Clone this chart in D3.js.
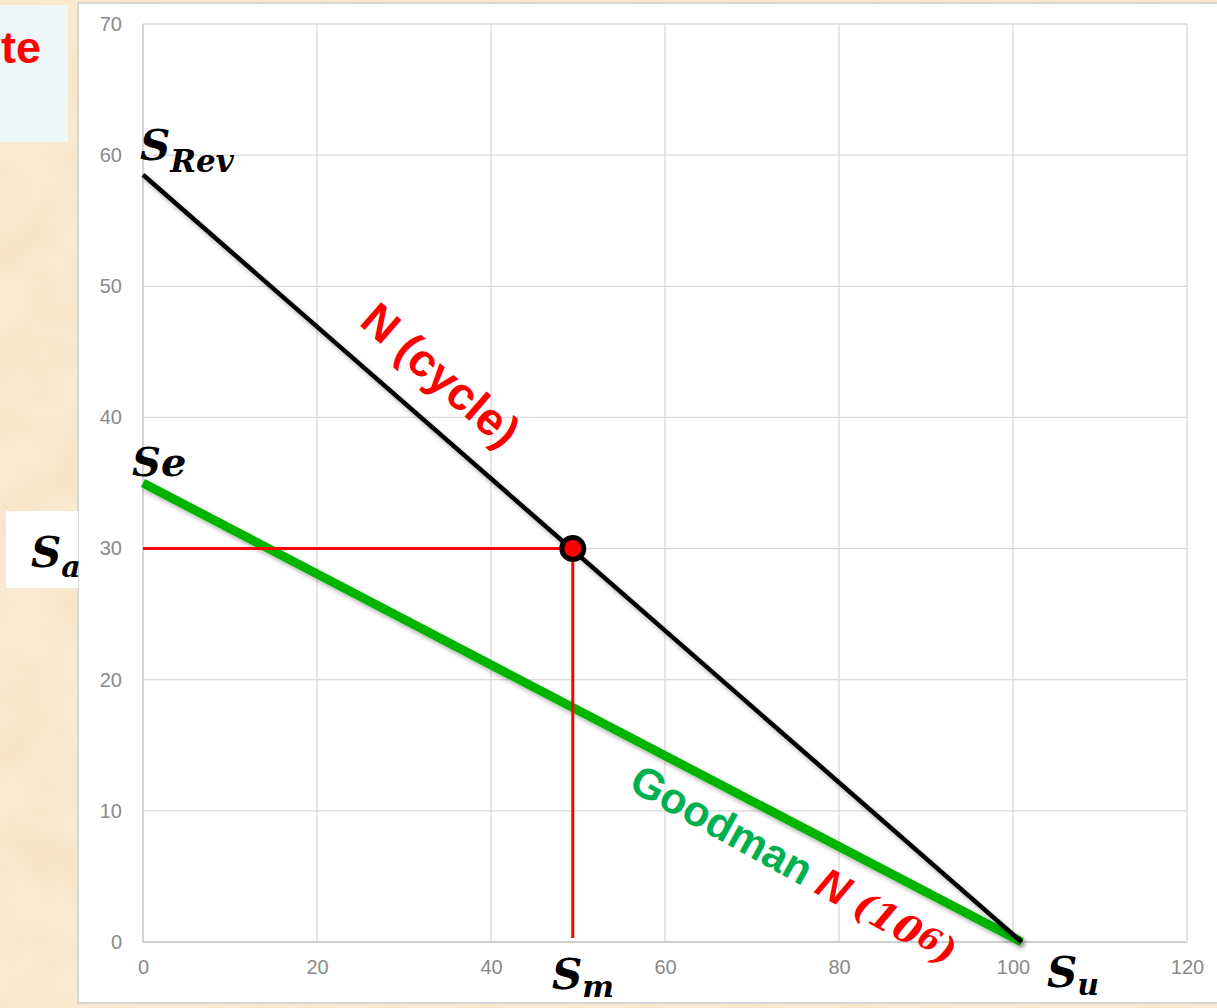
<!DOCTYPE html>
<html>
<head>
<meta charset="utf-8">
<script src="https://cdn.jsdelivr.net/npm/d3@7"></script>
<style>
  html, body { margin: 0; padding: 0; background: #f6e4c0; }
  svg { display: block; }
</style>
</head>
<body>
<svg id="chart" width="1217" height="1008"></svg>
<script>
// Axis ticks
const xTicks = [0, 20, 40, 60, 80, 100, 120];
const yTicks = [0, 10, 20, 30, 40, 50, 60, 70];

// Fatigue lines (Sm, Sa)
const reversedLine = [[0, 58.5], [101, 0]];   // S_Rev -> S_u, N cycles
const goodmanLine = [[0, 35], [101, 0]];      // Se -> S_u, N = 10^6
const operatingPoint = [49.4, 30];            // (Sm, Sa)

const svg = d3.select("#chart");
const W = 1217, H = 1008;

const x = d3.scaleLinear().domain([0, 120]).range([143, 1187]);
const y = d3.scaleLinear().domain([0, 70]).range([942, 24]);

// ---- parchment background ----
const defs = svg.append("defs");
const paper = defs.append("filter").attr("id", "paper")
  .attr("x", 0).attr("y", 0).attr("width", "100%").attr("height", "100%");
paper.append("feTurbulence").attr("type", "fractalNoise")
  .attr("baseFrequency", 0.018).attr("numOctaves", 4).attr("seed", 11).attr("result", "noise");
paper.append("feColorMatrix").attr("in", "noise").attr("type", "matrix")
  .attr("values", "0 0 0 0 0.92  0 0 0 0 0.78  0 0 0 0 0.55  2.4 0 0 0 -1.0")
  .attr("result", "tint");
paper.append("feGaussianBlur").attr("in", "tint").attr("stdDeviation", 1.5);

svg.append("rect").attr("width", W).attr("height", H).attr("fill", "#f9ead0");
svg.append("rect").attr("width", W).attr("height", H).attr("fill", "#000")
  .attr("filter", "url(#paper)").attr("opacity", 0.9);

// soft shadow for the lines
const shadow = defs.append("filter").attr("id", "shadow")
  .attr("x", "-10%").attr("y", "-10%").attr("width", "120%").attr("height", "120%");
shadow.append("feDropShadow").attr("dx", 2).attr("dy", 3).attr("stdDeviation", 2)
  .attr("flood-color", "#000").attr("flood-opacity", 0.3);

// note box (top-left)
svg.append("rect").attr("x", 0).attr("y", 5).attr("width", 68).attr("height", 137)
  .attr("fill", "#eef8f8");
svg.append("text").attr("x", 41).attr("y", 63).attr("text-anchor", "end")
  .attr("font-family", "Liberation Sans, Arial, sans-serif").attr("font-weight", "bold")
  .attr("font-size", 45).attr("fill", "#ff0000").text("te");

// chart area
svg.append("rect").attr("x", 78).attr("y", 3).attr("width", W - 78 + 5).attr("height", 1000)
  .attr("fill", "#ffffff").attr("stroke", "#d6d6d6").attr("stroke-width", 2);

// ---- grid ----
const grid = svg.append("g");
grid.selectAll("line.h").data(yTicks).join("line")
  .attr("x1", x(0)).attr("x2", x(120)).attr("y1", d => y(d)).attr("y2", d => y(d))
  .attr("stroke", d => d === 0 ? "#bfbfbf" : "#d9d9d9").attr("stroke-width", 1.3);
grid.selectAll("line.v").data(xTicks).join("line")
  .attr("y1", y(0)).attr("y2", y(70)).attr("x1", d => x(d)).attr("x2", d => x(d))
  .attr("stroke", d => d === 0 ? "#bfbfbf" : "#d9d9d9").attr("stroke-width", 1.3);

// ---- axes ----
const tickFont = "Liberation Sans, Arial, sans-serif";
const yAxis = svg.append("g").attr("transform", `translate(${x(0) - 21},0)`)
  .call(d3.axisLeft(y).tickValues(yTicks).tickSize(0).tickPadding(0).tickFormat(d3.format("d")));
const xAxis = svg.append("g").attr("transform", `translate(0,${y(0) + 21})`)
  .call(d3.axisBottom(x).tickValues(xTicks).tickSize(0).tickPadding(0).tickFormat(d3.format("d")));
[yAxis, xAxis].forEach(a => {
  a.select(".domain").remove();
  a.selectAll("text").attr("font-family", tickFont).attr("font-size", 20).attr("fill", "#8a8a8a");
});
xAxis.selectAll("text").attr("dy", "0.55em");

// ---- lines ----
const line = d3.line().x(d => x(d[0])).y(d => y(d[1]));

svg.append("path").datum(goodmanLine).attr("d", line)
  .attr("fill", "none").attr("stroke", "#00b400").attr("stroke-width", 9)
  .attr("filter", "url(#shadow)");

svg.append("path").datum(reversedLine).attr("d", line)
  .attr("fill", "none").attr("stroke", "#000").attr("stroke-width", 4.5)
  .attr("filter", "url(#shadow)");

// projection lines to axes
const [pm, pa] = operatingPoint;
svg.append("path").datum([[0, pa], [pm, pa]]).attr("d", line)
  .attr("fill", "none").attr("stroke", "#ff0000").attr("stroke-width", 3);
svg.append("path").datum([[pm, pa], [pm, 0.3]]).attr("d", line)
  .attr("fill", "none").attr("stroke", "#ff0000").attr("stroke-width", 3);

svg.append("circle").attr("cx", x(pm)).attr("cy", y(pa)).attr("r", 11)
  .attr("fill", "#ff0000").attr("stroke", "#000").attr("stroke-width", 5);

// ---- labels ----
const mathFont = "DejaVu Serif, serif";
function mathLabel(px, py, main, sub, size, subSize, subDy) {
  const t = svg.append("text").attr("x", px).attr("y", py)
    .attr("font-family", mathFont).attr("font-style", "italic").attr("font-weight", "bold")
    .attr("fill", "#000").attr("font-size", size);
  t.append("tspan").text(main);
  if (sub) t.append("tspan").attr("font-size", subSize).attr("dy", subDy).text(sub);
  return t;
}

// Sa box on the left
svg.append("rect").attr("x", 6).attr("y", 511).attr("width", 72).attr("height", 77).attr("fill", "#ffffff");
mathLabel(31, 567, "S", "a", 42, 30, 10);

mathLabel(140, 160, "S", "Rev", 42, 31, 12);
mathLabel(132, 476, "Se", null, 40);
mathLabel(552, 989, "S", "m", 42, 30, 8);
mathLabel(1047, 987, "S", "u", 42, 30, 8);

// along the N-cycle line
svg.append("text").attr("transform", "translate(358,324) rotate(41)")
  .attr("font-family", "Liberation Sans, Arial, sans-serif").attr("font-weight", "bold")
  .attr("font-size", 46).attr("fill", "#ff0000").text("N (cycle)");

// along the Goodman line
const gl = svg.append("text").attr("transform", "translate(627,789) rotate(29)")
  .attr("font-family", "Liberation Sans, Arial, sans-serif").attr("font-weight", "bold")
  .attr("font-size", 43);
gl.append("tspan").attr("fill", "#00b050").text("Goodman ");
gl.append("tspan").attr("fill", "#ff0000").attr("font-style", "italic").text("N ");
const mathTspan = (txt, size) => gl.append("tspan").attr("fill", "#ff0000").attr("font-family", mathFont)
  .attr("font-style", "italic").attr("font-weight", "bold").attr("font-size", size).text(txt);
mathTspan("(10", 38);
mathTspan("6", 31).attr("dy", -5);
mathTspan(")", 38).attr("dy", 5);
</script>
</body>
</html>
